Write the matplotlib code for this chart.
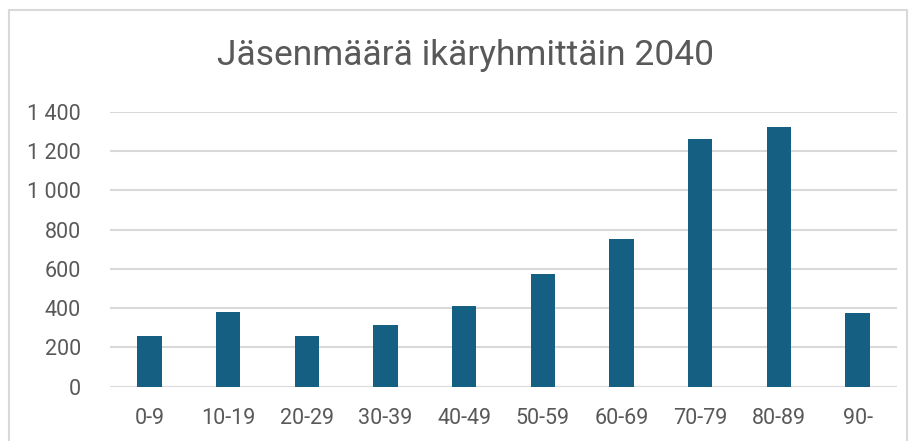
import matplotlib
matplotlib.use("Agg")
import matplotlib.pyplot as plt
from matplotlib.patches import Rectangle
from matplotlib.ticker import FuncFormatter

# ----------------------------
# Data
# ----------------------------

age_groups = ["0-9", "10-19", "20-29", "30-39", "40-49",
              "50-59", "60-69", "70-79", "80-89", "90-"]
members = [260, 380, 260, 315, 412, 574, 750, 1261, 1324, 377]

title = "Jäsenmäärä ikäryhmittäin 2040"
y_ticks = [0, 200, 400, 600, 800, 1000, 1200, 1400]

# ----------------------------
# Plot
# ----------------------------

plt.rcParams["font.family"] = ["Roboto", "DejaVu Sans"]
text_color = "#595959"
bar_color = "#156082"
grid_color = "#d9d9d9"

fig = plt.figure(figsize=(9.14, 4.41), dpi=100)
ax = fig.add_axes([110 / 914, 1 - 386.7 / 441, 787 / 914, 275 / 441])

x = range(len(age_groups))
ax.bar(x, members, width=0.31, color=bar_color, zorder=3)

ax.set_xlim(-0.5, len(age_groups) - 0.5)
ax.set_ylim(0, 1400)
ax.set_yticks(y_ticks)
ax.yaxis.set_major_formatter(FuncFormatter(lambda v, p: f"{int(v):,}".replace(",", " ")))
ax.set_xticks(list(x))
ax.set_xticklabels(age_groups)

ax.grid(axis="y", color=grid_color, linewidth=1.5, zorder=0)
for side in ["top", "right", "left", "bottom"]:
    ax.spines[side].set_visible(False)
ax.tick_params(axis="both", length=0, labelsize=15.5, colors=text_color)
ax.tick_params(axis="y", pad=21)
ax.tick_params(axis="x", pad=15)

fig.text(466 / 914, 1 - 56 / 441, title, ha="center", va="center",
         fontsize=25.5, color=text_color)

# chart frame
fig.patches.append(Rectangle((9 / 914, -0.1), 898 / 914, 1.1 - 10 / 441,
                             transform=fig.transFigure, fill=False,
                             edgecolor="#d9d9d9", linewidth=1.5))

plt.savefig("out.png", dpi=100)
